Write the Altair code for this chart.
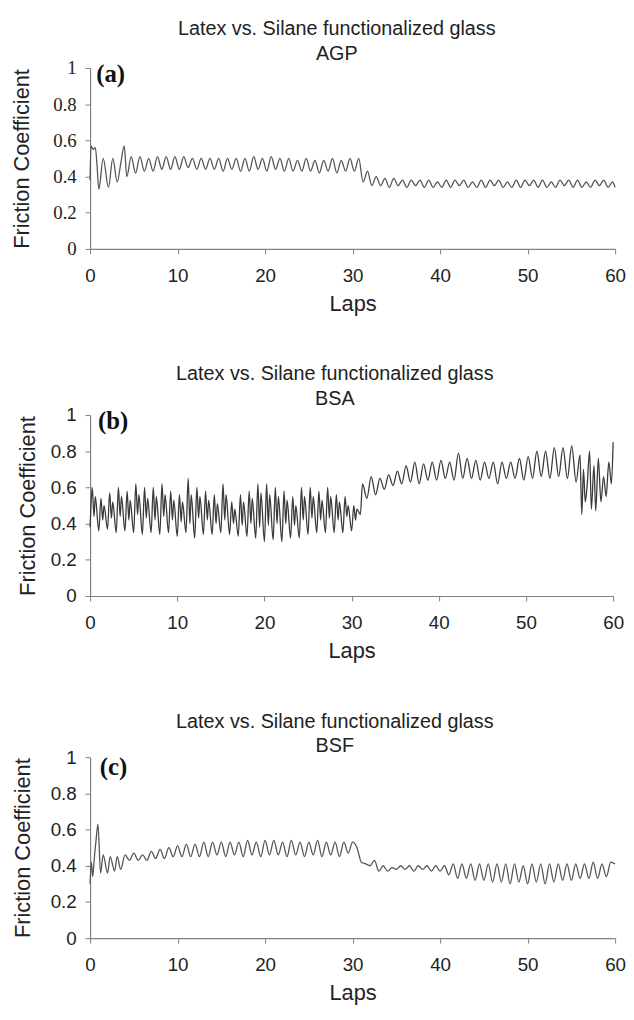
import altair as alt
import pandas as pd

TITLE = "Latex vs. Silane functionalized glass"
SUBTITLES = ["AGP", "BSA", "BSF"]
PANEL_LABELS = ["(a)", "(b)", "(c)"]
X_TICKS = [0, 10, 20, 30, 40, 50, 60]
Y_TICKS = [0, 0.2, 0.4, 0.6, 0.8, 1.0]

# ---- Panel (a) AGP ----
a_head_x = [0.0, 0.1, 0.35, 0.6, 0.8, 1.0, 1.5, 2.1, 2.6, 3.1, 3.5, 3.9, 4.2]
a_head_y = [0.38, 0.57, 0.55, 0.56, 0.46, 0.33, 0.50, 0.34, 0.50, 0.37, 0.47, 0.57, 0.40]
a_wave_start = 4.7
a_wave = [
    0.51, 0.42, 0.51, 0.43, 0.50, 0.43, 0.51, 0.44, 0.51, 0.44,
    0.51, 0.44, 0.51, 0.45, 0.50, 0.44, 0.50, 0.44, 0.50, 0.44,
    0.50, 0.43, 0.50, 0.44, 0.50, 0.43, 0.50, 0.43, 0.51, 0.44,
    0.50, 0.43, 0.51, 0.44, 0.50, 0.43, 0.50, 0.43, 0.49, 0.43,
    0.50, 0.43, 0.49, 0.42, 0.49, 0.43, 0.50, 0.42, 0.49, 0.43,
    0.50, 0.43, 0.50,
    0.37, 0.43, 0.35, 0.40, 0.35, 0.39, 0.34, 0.39, 0.35, 0.38,
    0.34, 0.38, 0.35, 0.38, 0.34, 0.38, 0.34, 0.37, 0.34, 0.38,
    0.34, 0.38, 0.35, 0.38, 0.34, 0.37, 0.34, 0.38, 0.34, 0.38,
    0.35, 0.38, 0.34, 0.37, 0.34, 0.38, 0.34, 0.38, 0.35, 0.38,
    0.34, 0.38, 0.34, 0.37, 0.34, 0.38, 0.35, 0.38, 0.34, 0.38,
    0.34, 0.37, 0.34, 0.38, 0.35, 0.38, 0.34, 0.37,
]
a_tail_x = [60.0]
a_tail_y = [0.34]

# ---- Panel (b) BSA ----
b_head_x = [0.0, 0.1]
b_head_y = [0.38, 0.50]
b_cycle_start = 0.25   # four points per lap: peak, dip, sub-peak, trough
b_peaks = [0.60, 0.54, 0.57, 0.60, 0.58, 0.62, 0.60, 0.60, 0.62, 0.58,
           0.56, 0.65, 0.60, 0.58, 0.56, 0.62, 0.52, 0.56, 0.58, 0.62,
           0.62, 0.60, 0.58, 0.55, 0.60, 0.60, 0.58, 0.60, 0.56, 0.55, 0.50]
b_dips = [0.44, 0.42, 0.43, 0.44, 0.42, 0.45, 0.43, 0.42, 0.44, 0.42,
          0.41, 0.40, 0.43, 0.42, 0.40, 0.42, 0.40, 0.39, 0.40, 0.38,
          0.39, 0.40, 0.40, 0.39, 0.42, 0.43, 0.42, 0.43, 0.42, 0.44, 0.42]
b_subs = [0.55, 0.50, 0.52, 0.55, 0.53, 0.56, 0.54, 0.55, 0.56, 0.53,
          0.52, 0.56, 0.55, 0.53, 0.51, 0.56, 0.48, 0.52, 0.54, 0.57,
          0.56, 0.55, 0.53, 0.50, 0.55, 0.55, 0.53, 0.55, 0.52, 0.50, 0.48]
b_troughs = [0.36, 0.37, 0.35, 0.36, 0.35, 0.34, 0.35, 0.34, 0.35, 0.33,
             0.35, 0.32, 0.34, 0.34, 0.35, 0.34, 0.33, 0.33, 0.32, 0.30,
             0.31, 0.30, 0.32, 0.32, 0.34, 0.35, 0.35, 0.35, 0.35, 0.36, 0.45]
b_wave_start = 31.25
b_wave = [
    0.62, 0.54, 0.66, 0.56, 0.65, 0.59, 0.67, 0.61, 0.69, 0.62,
    0.72, 0.63, 0.74, 0.62, 0.73, 0.64, 0.74, 0.64, 0.75, 0.65,
    0.74, 0.64, 0.79, 0.65, 0.76, 0.65, 0.75, 0.64, 0.74, 0.65,
    0.74, 0.62, 0.74, 0.65, 0.74, 0.65, 0.76, 0.64, 0.77, 0.65,
    0.80, 0.66, 0.80, 0.65, 0.82, 0.66, 0.82, 0.65, 0.83, 0.63,
]
b_tail_x = [56.2, 56.4, 56.6, 56.8, 57.0, 57.3, 57.5, 57.8, 58.0, 58.3,
            58.6, 58.9, 59.2, 59.5, 59.8, 60.0]
b_tail_y = [0.78, 0.45, 0.70, 0.52, 0.60, 0.80, 0.48, 0.72, 0.47, 0.76,
            0.52, 0.66, 0.55, 0.74, 0.62, 0.85]

# ---- Panel (c) BSF ----
c_head_x = [0.0, 0.15, 0.3, 0.5, 0.7, 0.9, 1.2, 1.5, 2.0, 2.3, 2.8, 3.1, 3.5]
c_head_y = [0.30, 0.42, 0.34, 0.45, 0.55, 0.63, 0.36, 0.46, 0.36, 0.45, 0.37, 0.45, 0.38]
c_wave_start = 4.0
c_wave = [
    0.46, 0.43, 0.47, 0.43, 0.46, 0.43, 0.48, 0.44, 0.49, 0.44,
    0.50, 0.45, 0.51, 0.45, 0.52, 0.45, 0.52, 0.45, 0.53, 0.45,
    0.53, 0.46, 0.53, 0.45, 0.53, 0.46, 0.53, 0.45, 0.54, 0.46,
    0.53, 0.45, 0.54, 0.46, 0.54, 0.46, 0.53, 0.45, 0.54, 0.46,
    0.53, 0.45, 0.53, 0.46, 0.54, 0.45, 0.53, 0.46, 0.53, 0.45,
    0.53, 0.47, 0.53,
    0.50, 0.42, 0.41, 0.40, 0.43, 0.37, 0.40, 0.37, 0.39, 0.38,
    0.40, 0.38, 0.40, 0.37, 0.40, 0.38, 0.40, 0.37, 0.40, 0.37,
    0.40, 0.35, 0.41, 0.33, 0.41, 0.33, 0.41, 0.32, 0.41, 0.32,
    0.41, 0.31, 0.41, 0.31, 0.41, 0.30, 0.41, 0.31, 0.40, 0.30,
    0.41, 0.31, 0.41, 0.30, 0.41, 0.31, 0.41, 0.32, 0.41, 0.32,
    0.41, 0.33, 0.41, 0.33, 0.42, 0.33, 0.41, 0.34, 0.42, 0.41,
]

# panel label positions (data units)
label_x = [0.7, 0.9, 1.1]
label_y = [0.965, 0.965, 0.945]


def wave_frame(head_x, head_y, start, wave, tail_x, tail_y):
    xs = list(head_x) + [start + 0.5 * i for i in range(len(wave))] + list(tail_x)
    ys = list(head_y) + list(wave) + list(tail_y)
    return pd.DataFrame({"lap": xs, "mu": ys})


df_a = wave_frame(a_head_x, a_head_y, a_wave_start, a_wave, a_tail_x, a_tail_y)

b_x, b_y = list(b_head_x), list(b_head_y)
for k in range(len(b_peaks)):
    b_x += [b_cycle_start + k + 0.0, b_cycle_start + k + 0.2,
            b_cycle_start + k + 0.35, b_cycle_start + k + 0.75]
    b_y += [b_peaks[k], b_dips[k], b_subs[k], b_troughs[k]]
df_b = pd.concat([pd.DataFrame({"lap": b_x, "mu": b_y}),
                  wave_frame([], [], b_wave_start, b_wave, b_tail_x, b_tail_y)],
                 ignore_index=True)

df_c = wave_frame(c_head_x, c_head_y, c_wave_start, c_wave, [], [])

SANS = "Liberation Sans"
SERIF = "Liberation Serif"
TXT = "#222222"
AX = "#808080"


def panel(df, idx, width, ylab_font, line_color, dx, ytitle_pad, title_offset):
    xenc = alt.X("lap:Q", scale=alt.Scale(domain=[0, 60], nice=False),
                 axis=alt.Axis(values=X_TICKS, title="Laps", grid=False,
                               labelFont=SANS, labelFontSize=19,
                               labelColor=TXT, labelPadding=13,
                               labelOverlap=False, labelFlush=False,
                               titleFont=SANS, titleFontSize=22,
                               titleFontWeight="normal", titleColor=TXT,
                               titlePadding=8, domainColor=AX, tickColor=AX,
                               tickSize=5, domainWidth=1.2))
    yenc = alt.Y("mu:Q", scale=alt.Scale(domain=[0, 1], nice=False),
                 axis=alt.Axis(values=Y_TICKS, format=".1~f",
                               title="Friction Coefficient", grid=False,
                               labelFont=ylab_font, labelFontSize=19,
                               labelColor=TXT, labelPadding=9,
                               labelOverlap=False, labelFlush=False,
                               titleFont=SANS, titleFontSize=22,
                               titleFontWeight="normal", titleColor=TXT,
                               titlePadding=ytitle_pad, domainColor=AX,
                               tickColor=AX, tickSize=5, domainWidth=1.2))
    line = alt.Chart(df).mark_line(color=line_color, strokeWidth=1.3,
                                   interpolate="monotone").encode(x=xenc, y=yenc)
    lab_df = pd.DataFrame({"lap": [label_x[idx]], "mu": [label_y[idx]],
                           "t": [PANEL_LABELS[idx]]})
    lab = alt.Chart(lab_df).mark_text(
        font=SERIF, fontSize=25, fontWeight="bold", align="left",
        baseline="middle", color="#111").encode(x=xenc, y=yenc, text="t:N")
    return alt.layer(line, lab).properties(
        width=width, height=183,
        title=alt.TitleParams(text=[TITLE, SUBTITLES[idx]], font=SANS,
                              fontSize=20, fontWeight="normal", color=TXT,
                              lineHeight=25, anchor="middle", dx=dx,
                              offset=title_offset))


pa = panel(df_a, 0, 531, SERIF, "#555555", -16, 20, -5)
pb = panel(df_b, 1, 529, SANS, "#3a3a3a", -17, 11, -3)
pc = panel(df_c, 2, 531, SANS, "#555555", -18, 16, -8)

chart = (
    alt.vconcat(pa, pb, pc, spacing=51,
                padding={"left": 2, "top": 6, "right": 0, "bottom": 0},
                background="white")
    .configure_view(stroke=None)
)

chart.save("out.html", embed_options={"renderer": "svg", "actions": False})
